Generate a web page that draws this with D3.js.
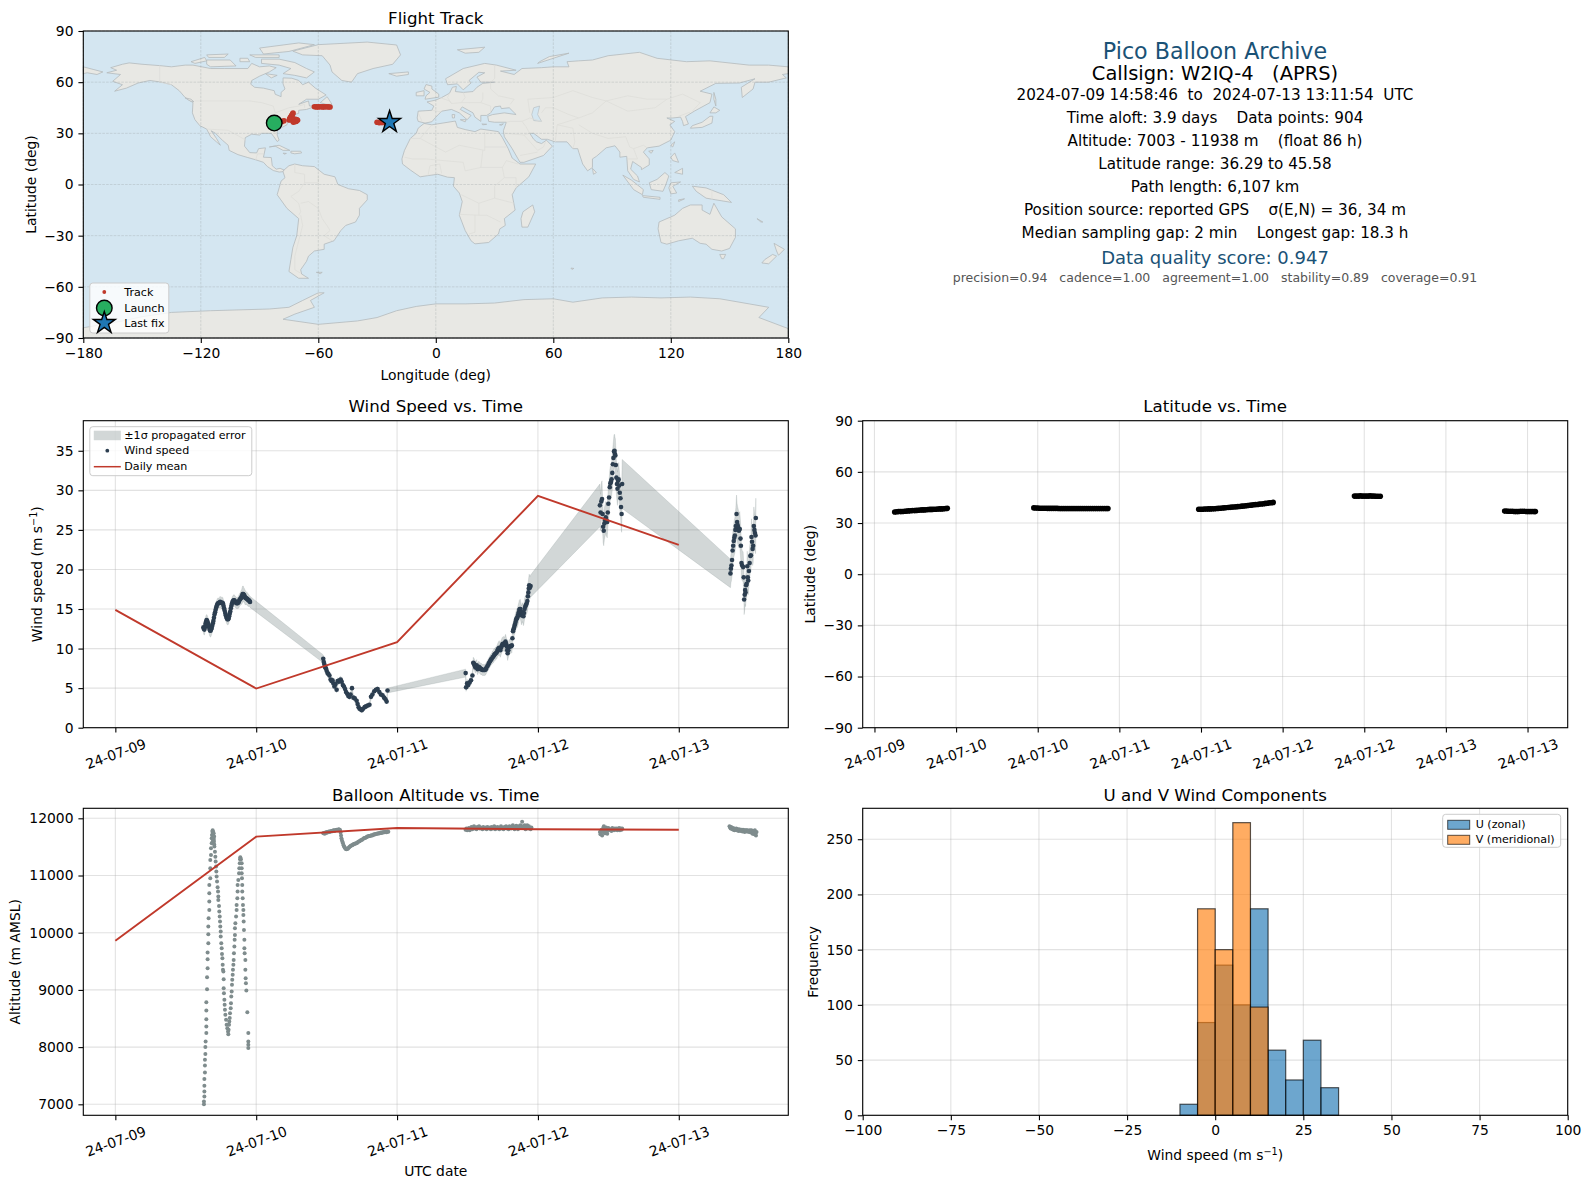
<!DOCTYPE html>
<html>
<head>
<meta charset="utf-8">
<title>Pico Balloon Archive</title>
<script src="https://cdnjs.cloudflare.com/ajax/libs/d3/7.8.5/d3.min.js"></script>
<style>
    body { margin: 0; background: #fff; }
    svg { display: block; }
    text { font-family: "DejaVu Sans", sans-serif; fill: #000; }
</style>
</head>
<body>
<svg id="chart" width="1590" height="1189"></svg>
<script>
// land outlines, lon / lat
var landNorthAmerica = [[-156.6,71.3],[-150,70.5],[-141,69.7],[-135,69],[-128,70],[-124,70],[-115,68],[-108,68],[-100,68],[-96,68],[-94,71],[-90,69],[-85,69.5],[-81.5,68.5],[-85,66],[-87,65],[-90,63.5],[-94,61],[-94.5,58.8],[-92.5,57],[-88,56.5],[-82.5,55],[-82,52.9],[-79,51.5],[-79,54],[-77,56],[-78,59],[-78,62.5],[-73.5,62.3],[-70,61],[-68,58.5],[-65,60],[-61.5,56.5],[-56,52.5],[-60,50],[-66,50],[-70,47],[-65,49],[-64.5,46],[-61,46],[-66,44],[-70,43.5],[-70,41.7],[-74,40.5],[-75.5,37.5],[-76,35],[-81,32],[-81,29],[-80,26],[-81,25.2],[-82.7,28],[-84,30],[-89,30],[-90,29],[-94,29.5],[-97.3,27.5],[-97.7,22.5],[-95,18.7],[-91.5,18.5],[-90.5,21],[-87,21.5],[-88,16],[-84,15.8],[-83.5,11],[-81.5,9],[-79.5,9.5],[-77.5,8.5],[-78,7.5],[-80,7.3],[-83,8.2],[-86,10.5],[-88,13],[-92,14.5],[-96,15.8],[-101,17.5],[-105.5,20],[-106,23],[-109,26],[-112.5,30],[-114.7,31.5],[-112,27],[-110,23],[-112,25],[-115,28],[-117,32.5],[-120.5,34.5],[-123,38],[-124.3,42],[-124,48],[-128,51],[-131,55],[-135,58.5],[-140,60],[-146,61],[-152,59.5],[-158,56.5],[-164,54.7],[-160,58.5],[-165,60.5],[-161,64.5],[-168,65.5],[-163,67],[-166,68.5],[-160,70.5]];
var landSouthAmerica = [[-77.5,8.5],[-75,11],[-72,12],[-68,11],[-62,10.5],[-57,6],[-51.5,4.5],[-50,0],[-44.5,-2.5],[-39,-3.5],[-35,-6],[-35,-9],[-39,-14],[-39,-18],[-41,-22],[-46,-24],[-48.5,-27],[-52,-33],[-57,-35],[-57,-38],[-62,-39],[-65,-42],[-66,-45],[-69,-50],[-68.5,-52.5],[-65,-55],[-70,-55],[-75,-51],[-74,-44],[-73,-37],[-71,-30],[-70,-20],[-76,-14],[-81,-6],[-80,-2],[-79,2],[-77,4],[-78,7.5]];
var landAfrica = [[-6,35.8],[-2,35],[10,37.2],[11,33.5],[15,32.2],[20,31],[23,32.5],[32,31],[34,27.5],[37,21],[39,15.5],[43,12],[51,12],[47.5,4.5],[41,-2],[39,-6],[40.5,-15],[35,-20],[35.5,-24],[32.7,-26],[32,-29],[27,-34],[20,-34.8],[18,-33],[15,-27],[12,-18],[13.5,-10],[12,-5],[9,-1],[9.5,4],[6,4.3],[1,6],[-4,5.2],[-8,4.5],[-13,8.5],[-17,12],[-17.3,15],[-16,20],[-13,27],[-10,30],[-9,33]];
var landEurasia = [[-9,37],[-9.5,39],[-9,43],[-2,43.5],[-1,46],[-4.5,48.4],[0,49.5],[3,51],[7,53.5],[8.5,57],[10.5,57.5],[10,54.5],[14,54],[19,54.5],[21,57],[24,59.3],[30,60],[23,60],[21,63],[25,65.5],[22,65.8],[17,61],[18,59.5],[14,55.5],[11,59],[6,58.5],[5,62],[14,68],[25,71],[31,70],[41,67],[33,66.5],[40,64.5],[44,68],[54,68.5],[60,69],[68,69],[67,72],[73,72.5],[80,73],[88,75.5],[104,77.5],[113,74],[128,72],[140,72.5],[160,70],[170,70],[180,69],[180,65],[177,64.5],[179,62.5],[170,60],[163,60],[162,56],[156.5,51],[156,57],[163,62],[155,59.5],[143,59.3],[135,54.7],[141,53],[140,48],[132,43],[127.5,39.8],[129,35.5],[126.5,34.5],[126,37],[125,39.5],[121,39],[118,39],[122,37],[119.5,35],[122,31],[120,26],[114,22.5],[108,21.5],[106,19],[109,15],[109,11.5],[105,8.7],[105,10],[100.5,13.5],[99.5,9],[103,5],[104,1.5],[101,3],[98,8],[97.5,16.5],[94,16],[94,19],[91.5,22.7],[87,21.5],[82,16.5],[80,15],[80,10],[77.5,8],[75,12],[73,19],[72.5,21],[70,21],[67,25],[61,25],[57,26.5],[54,26.5],[50,30],[48,30],[50,26.5],[51.5,25],[54,24],[56.5,26],[59.5,22.5],[55,17],[45,13],[43,13],[39,21],[35,28],[34.5,31.5],[36,36.5],[30,36.5],[27,37],[26.5,40],[29,41],[35,42],[41,41],[37.5,45],[33.5,44.5],[33,46],[30,45.5],[28,42],[26,40.5],[23,40.5],[23,37],[20,39.5],[19,42],[13.5,45.5],[12.5,44],[18,40.5],[16,38],[12,42],[8,44],[3,43],[0,39.5],[-2,36.8],[-5.5,36]];
var landAustralia = [[114,-22],[122,-18],[126,-14],[130,-12],[136,-12],[136,-15],[140,-17.5],[142,-11],[146,-19],[153,-26],[153,-31],[150,-37.5],[146,-39],[141,-38],[138,-35],[135,-34.5],[131,-31.5],[124,-33],[118,-35],[115,-34],[113.5,-26]];
var landAntarctica = [[-180,-90],[-180,-84],[-160,-80],[-150,-77.5],[-135,-75],[-115,-74],[-100,-73.5],[-85,-73],[-75,-72],[-68,-68],[-60,-63.5],[-57,-63.5],[-64,-68],[-62,-72],[-72,-76],[-78,-79],[-60,-82],[-40,-80],[-30,-78],[-20,-74],[-10,-71.5],[0,-70],[15,-70],[30,-69.5],[45,-67.5],[60,-67],[70,-69],[85,-66.5],[100,-66],[115,-66.5],[130,-66],[145,-67],[160,-70],[170,-72],[165,-78],[180,-84.5],[180,-90]];
var landIslands = [
    [[-73,78.2],[-60,82],[-35,83.5],[-20,81.8],[-18,76],[-22,70.5],[-32,68],[-40,65],[-43,60],[-48,61],[-53,66],[-54,70],[-58,75.5],[-68,76]],
    [[-80,73.5],[-72,71.5],[-66,68],[-62,66],[-66,62.5],[-72,64],[-78,65],[-74,68],[-80,70],[-89,71],[-89,73.5]],
    [[-117,73],[-105,73],[-102,69.5],[-115,69],[-117,70.5]],
    [[-90,80],[-70,83],[-62,82],[-75,78],[-88,76.5]],
    [[-125,72],[-118,74.5],[-117,72.5],[-123,71]],
    [[-95,76],[-80,76],[-80,74.5],[-92,74.5]],
    [[-117,76],[-106,76.5],[-108,74.5],[-116,74.5]],
    [[-100,74],[-96,74],[-95,72],[-100,72]],
    [[-87,65],[-81,64],[-84,62.5]],
    [[-59,48],[-55.5,51.5],[-53,47],[-56,47]],
    [[-85,22],[-80,23],[-74.5,20],[-78,20],[-82,22.5]],
    [[-74,19.5],[-69,19.5],[-68.5,18.5],[-72,18],[-74,18.5]],
    [[-78,18.4],[-76.3,18.2],[-77.5,17.8]],
    [[-128,50.8],[-125,50],[-123.5,48.5],[-125.5,49]],
    [[-180,69],[-175,67.5],[-170,66],[-173,64.5],[-178,65.5],[-180,65]],
    [[-5.5,50],[1.5,51.2],[1.5,53],[-2,56],[-2,57.7],[-5,58.6],[-6,56],[-3,54],[-5,52]],
    [[-10,52],[-6,52],[-6,55],[-10,54]],
    [[-24,65],[-14,66],[-14,64.5],[-20,63.5]],
    [[11,79],[25,80.5],[22,77.5],[15,77]],
    [[52,71],[68,77],[58,75],[53,72]],
    [[142,54],[143,50],[143,46],[142,50]],
    [[130,33],[136,33.5],[141,36],[141.5,40],[140,40],[136,36.5],[131,34.5]],
    [[140,42],[142,45.5],[145,43.5],[143,42]],
    [[120,23],[122,25],[121,22]],
    [[108.7,19.5],[111,20],[110,18.3]],
    [[80,9.5],[82,7],[80.5,6]],
    [[120,16],[122,18.5],[124,13],[121,14]],
    [[122,7],[126,9.5],[126,6]],
    [[109,1],[113,3],[117,7],[119,5],[117.5,0],[116,-4],[110,-3]],
    [[95.5,5.5],[100,2.5],[106,-3],[105.5,-6],[101,-3]],
    [[105.5,-6.5],[114.5,-7.5],[114.5,-8.7],[106,-7.5]],
    [[120,1],[125,1.5],[121,-1],[123,-5],[120,-5.5],[119,-2]],
    [[131,-1],[138,-2],[147,-6],[151,-10.5],[143,-9],[138,-8],[133,-4]],
    [[124,-9],[127,-8.4],[124,-10]],
    [[145,-41],[148,-41],[147,-43.5],[146,-43.5]],
    [[172.7,-34.5],[178,-38],[175,-41.5],[174,-39]],
    [[172,-41],[174,-42],[170,-46.5],[166.5,-46],[168,-44]],
    [[164,-20],[167,-22],[166,-22]],
    [[-61,-51.5],[-58,-51.5],[-59,-52.3]],
    [[49.5,-12],[50.5,-16],[47,-25],[44,-25],[43.5,-20],[44.5,-16]],
    [[12.5,38],[15.5,38],[15,36.7]],
    [[8.3,41],[9.7,41],[9.5,39],[8.5,39]],
    [[23.5,35.5],[26,35.3],[24,35]],
    [[32.5,35],[34.5,35.6],[33.5,34.7]],
    [[69,-49],[70.5,-49.2],[69.5,-49.8]]
];
var waterCaspian = [[50,45],[53,46],[52,41],[54,37],[50,37.5],[49,41]];
var borderLines = [
    [[-123,49],[-95,49],[-89,48],[-83,46],[-82,42],[-75,45],[-70,46],[-67,47],[-67,45]],
    [[-141,69.7],[-141,60],[-135,58.5]],
    [[-117,32.5],[-106,31.8],[-97,26]],
    [[-92,14.5],[-91,18],[-88,18]],
    [[-72,12],[-72,7],[-67,6],[-67,1],[-70,-4],[-74,-7],[-70,-11],[-69,-16],[-70,-18]],
    [[-60,5],[-60,1],[-67,1]],
    [[-69,-11],[-65,-10],[-60,-14],[-58,-20],[-55,-25],[-54,-27],[-57,-30],[-53,-33]],
    [[-69,-18],[-68,-24],[-70,-33],[-72,-42],[-72,-50],[-69,-52]],
    [[-2,35],[-8,27],[-13,27]],
    [[-8,27],[5,19],[12,23],[25,20],[25,31]],
    [[25,22],[36,22]],
    [[24,20],[23,10],[15,8],[14,13],[4,14],[-5,15],[-12,15],[-16,16]],
    [[23,10],[34,10],[36,14],[42,12]],
    [[34,10],[35,4],[41,4],[41,-2]],
    [[35,4],[30,-1],[30,-8],[22,-11],[13,-6]],
    [[30,-8],[40,-11]],
    [[22,-11],[22,-18],[12,-17.5]],
    [[20,-18],[20,-28],[17,-29]],
    [[33,-22],[26,-18],[22,-18]],
    [[-4,5.2],[-3,11],[2,12],[3,6.5]],
    [[2,51],[7,49],[8,47.5],[13,48],[17,48],[23,48],[28,46],[28,42]],
    [[7,53.5],[6,51],[8,47.5]],
    [[14,54],[15,51],[13,48]],
    [[24,54],[24,50],[23,48]],
    [[28,60],[28,56],[32,52],[40,50],[38,47]],
    [[30,70],[30,62],[28,60]],
    [[-2,43.5],[3,42.5]],
    [[-9,42],[-7,37]],
    [[48,42],[47,50],[60,51],[70,55],[80,51],[87,49],[98,52],[108,50],[118,50],[126,53],[135,48],[131,43]],
    [[87,49],[80,42],[73,39],[62,35],[61,25]],
    [[54,42],[56,45],[60,45],[68,41],[73,39]],
    [[87,49],[98,43],[112,45],[118,50]],
    [[73,35],[80,30],[88,27],[97,28],[99,22],[101,21],[106,23],[108,21.5]],
    [[62,35],[70,33],[71,25],[70,21]],
    [[48,30],[46,34],[44,37],[38,37],[36,36.5]],
    [[44,37],[48,39],[54,37]],
    [[35,30],[45,29],[48,30]],
    [[45,29],[52,20],[55,22],[56,25]],
    [[43,17],[52,19]],
    [[101,21],[103,15],[98,15]],
    [[124,40],[130,42.5]],
    [[141,-2.5],[141,-9]]
];

var gridLon = [-180, -120, -60, 0, 60, 120, 180];
var gridLat = [-90, -60, -30, 0, 30, 60, 90];

// track positions, grouped as the blobs show on the map
var trackLon = [-81,-79.5,-78.5,-77.5,-74.8,-74.6,-74.4,-74.1,-73.8,-73.5,-73.1,-72.9,-73.3,-73.8,-74.3,-74.4,-73.9,-73.2,-72.4,-71.6,-70.9,-70.6,-71.2,-72,-72.8,-62,-61,-60,-59,-58,-57,-56,-55,-54,-30,-29,-28,-27,-26,-25];
var trackLat = [36.3,36.6,37,37.4,37.8,38.3,38.9,39.4,40,40.6,41.3,41.9,40.8,39.6,38.8,38.2,38.1,38.1,38.2,38.2,38,37.6,37.1,36.8,36.6,45.6,45.5,45.5,45.6,45.5,45.5,45.6,45.5,45.4,36.5,36.3,36.4,36.4,36.5,36.6];
var launchPoint = [-82.5, 36.0];
var lastFix = [-23.6, 36.6];

// wind speed legs: [days since 2024-07-09 00:00 UTC, speed, sigma]
var windLeg1 = [[.625,12.7,.7],[.628,12.5,.7],[.632,12.4,.7],[.636,12.7,.7],[.640,13.1,.8],[.644,13.4,.8],[.648,13.6,.7],[.652,13.5,.7],[.656,13.3,.7],[.660,13.0,.7],[.664,12.8,.7],[.668,12.5,.8],[.672,12.3,.8],[.676,12.25,.8],[.680,12.4,.8],[.684,12.6,.8],[.688,12.9,.7],[.692,13.2,.7],[.696,13.5,.7],[.700,13.9,.7],[.704,14.3,.7],[.708,14.6,.7],[.712,14.9,.7],[.716,15.2,.7],[.720,15.4,.7],[.724,15.6,.7],[.728,15.7,.7],[.732,15.75,.6],[.736,15.8,.6],[.740,15.8,.7],[.744,15.9,.7],[.748,15.8,.7],[.752,15.8,.7],[.756,15.8,.7],[.760,15.8,.7],[.764,15.7,.7],[.768,15.4,.7],[.772,15.1,.7],[.776,14.8,.7],[.780,14.5,.7],[.784,14.2,.7],[.788,14.0,.7],[.792,13.8,.7],[.796,13.7,.7],[.800,13.7,.7],[.804,13.8,.7],[.808,14.1,.7],[.812,14.4,.7],[.816,14.7,.7],[.820,15.1,.7],[.824,15.4,.7],[.828,15.7,.7],[.832,15.9,.7],[.836,16.0,.7],[.840,16.1,.7],[.844,16.1,.7],[.848,16.0,.7],[.852,15.9,.7],[.856,15.8,.7],[.860,15.8,.7],[.864,15.7,.7],[.868,15.8,.7],[.872,15.8,.7],[.876,15.9,.8],[.880,16.1,.8],[.884,16.2,.8],[.888,16.3,.8],[.892,16.4,.9],[.896,16.5,.9],[.900,16.7,1.0],[.904,16.9,1.0],[.908,16.9,1.0],[.912,16.8,.9],[.916,16.7,.9],[.920,16.5,.9],[.924,16.4,.9],[.928,16.4,.8],[.932,16.3,.8],[.936,16.3,.8],[.940,16.2,.8],[.944,16.1,.8],[.948,16.1,.7],[.952,16.0,.7],[.956,15.9,.7]];
var windLeg2 = [[1.476,8.7,.5],[1.480,8.3,.5],[1.484,8.0,.5],[1.490,7.6,.5],[1.495,7.5,.4],[1.500,7.2,.4],[1.506,6.9,.4],[1.512,6.8,.4],[1.520,6.6,.4],[1.528,6.1,.4],[1.535,5.9,.4],[1.542,6.0,.4],[1.548,5.6,.4],[1.555,5.2,.4],[1.562,5.5,.4],[1.571,4.8,.4],[1.578,5.9,.4],[1.585,5.8,.4],[1.592,6.0,.4],[1.600,6.1,.4],[1.607,5.8,.4],[1.615,5.4,.4],[1.623,5.2,.4],[1.631,4.9,.3],[1.638,4.5,.3],[1.646,4.3,.3],[1.654,4.0,.3],[1.662,3.9,.3],[1.670,4.2,.3],[1.680,5.0,.3],[1.690,3.8,.3],[1.700,3.7,.3],[1.713,3.4,.3],[1.720,3.0,.3],[1.727,2.6,.3],[1.734,2.4,.3],[1.742,2.3,.3],[1.750,2.2,.3],[1.758,2.4,.3],[1.770,2.6,.3],[1.780,2.7,.3],[1.792,2.8,.3],[1.804,2.9,.3],[1.815,3.9,.3],[1.825,4.2,.3],[1.838,4.6,.3],[1.850,4.8,.3],[1.862,4.9,.3],[1.874,4.5,.3],[1.885,4.2,.3],[1.897,4.1,.3],[1.908,3.8,.3],[1.918,3.6,.3],[1.926,3.3,.3],[1.932,4.7,.3]];
var windLeg3 = [[2.487,6.9,.5],[2.490,5.1,.5],[2.497,5.6,.5],[2.505,5.4,.5],[2.515,5.7,.5],[2.525,6.0,.5],[2.535,6.6,.5],[2.541,8.2,.7],[2.545,8.1,.7],[2.548,8.0,.7],[2.552,7.8,.7],[2.556,7.6,.7],[2.560,7.8,.7],[2.565,7.9,.7],[2.568,7.6,.7],[2.572,7.4,.7],[2.576,7.6,.7],[2.580,7.7,.7],[2.585,7.6,.7],[2.590,7.5,.7],[2.595,7.4,.7],[2.600,7.4,.7],[2.606,7.3,.7],[2.612,7.3,.7],[2.618,7.3,.7],[2.624,7.3,.7],[2.630,7.4,.7],[2.635,7.6,.7],[2.642,7.8,.7],[2.648,8.0,.7],[2.654,8.2,.7],[2.660,8.4,.7],[2.666,8.6,.7],[2.672,8.7,.7],[2.678,8.9,.8],[2.684,9.0,.8],[2.690,9.2,.8],[2.695,9.3,.8],[2.701,9.4,.8],[2.707,9.5,.8],[2.712,9.7,.8],[2.716,9.9,.8],[2.721,10.0,.9],[2.725,10.1,.9],[2.729,10.0,.9],[2.733,9.8,.9],[2.738,10.1,.9],[2.742,10.3,.9],[2.747,10.5,.9],[2.752,10.6,.9],[2.757,10.6,.9],[2.762,10.5,.9],[2.766,10.7,.9],[2.770,10.9,.9],[2.774,10.6,.9],[2.778,10.3,.9],[2.782,9.8,.9],[2.785,9.4,.9],[2.790,9.8,.9],[2.795,10.2,.9],[2.800,10.3,.9],[2.805,10.3,.9],[2.810,10.3,.9],[2.815,10.4,.9],[2.819,11.3,.9],[2.823,12.2,1.0],[2.826,12.4,1.0],[2.830,12.6,1.0],[2.834,12.9,1.1],[2.838,13.1,1.1],[2.842,13.4,1.1],[2.846,13.7,1.1],[2.850,13.8,1.2],[2.853,13.9,1.2],[2.857,14.1,1.2],[2.860,14.3,1.2],[2.864,14.6,1.2],[2.868,14.9,1.2],[2.872,15.0,1.2],[2.875,15.0,1.2],[2.879,14.6,1.2],[2.883,14.2,1.2],[2.887,14.4,1.2],[2.890,14.6,1.2],[2.894,14.4,1.2],[2.897,14.1,1.2],[2.901,14.5,1.3],[2.905,15.0,1.3],[2.910,15.3,1.3],[2.915,15.5,1.3],[2.920,15.7,1.3],[2.925,16.0,1.3],[2.929,16.6,1.4],[2.932,17.1,1.4],[2.935,17.6,1.4],[2.938,18.0,1.4],[2.943,17.7,1.4],[2.948,17.9,1.4]];
var windLeg4 = [[3.440,28.1,2.7],[3.445,27.2,2.3],[3.450,28.6,2.3],[3.455,28.9,2.3],[3.459,27.0,2.1],[3.463,25.4,2.0],[3.467,24.9,1.9],[3.472,25.8,2.0],[3.477,26.2,2.0],[3.482,26.6,2.0],[3.487,26.2,2.0],[3.492,26.0,2.0],[3.496,27.2,2.0],[3.500,28.3,2.1],[3.505,29.1,2.1],[3.510,30.4,2.1],[3.514,30.9,2.1],[3.519,31.1,2.1],[3.523,31.4,2.1],[3.528,32.2,2.1],[3.532,33.3,2.1],[3.536,34.1,2.1],[3.540,34.9,2.1],[3.544,35.0,2.1],[3.547,34.6,2.1],[3.550,34.4,2.1],[3.553,33.2,2.1],[3.557,31.6,2.1],[3.561,30.8,2.1],[3.565,30.2,2.1],[3.569,31.2,2.1],[3.573,31.4,2.1],[3.577,30.6,2.1],[3.581,29.7,2.1],[3.586,29.0,2.2],[3.590,27.9,2.2],[3.594,27.0,2.3],[3.598,30.8,3.1]];
var windLeg5 = [[4.367,19.5,1.8],[4.370,20.1,1.8],[4.374,20.5,1.9],[4.378,21.2,2.0],[4.382,22.4,2.0],[4.386,23.0,2.1],[4.390,23.6,2.1],[4.394,24.0,2.2],[4.398,24.3,2.2],[4.402,25.0,2.3],[4.405,25.5,2.3],[4.410,27.0,2.4],[4.414,26.0,2.3],[4.418,25.6,2.3],[4.422,25.3,2.3],[4.427,24.9,2.2],[4.433,25.1,2.2],[4.438,23.9,2.2],[4.441,23.0,2.1],[4.445,20.8,2.0],[4.450,20.5,1.9],[4.457,20.3,1.9],[4.461,19.0,1.8],[4.464,16.2,1.9],[4.468,16.8,1.9],[4.471,17.4,1.8],[4.474,17.1,1.8],[4.478,18.0,1.8],[4.482,18.2,1.8],[4.486,20.4,1.9],[4.490,19.0,1.8],[4.493,18.6,1.8],[4.498,19.8,1.9],[4.503,20.8,2.0],[4.508,21.7,2.0],[4.512,21.8,2.0],[4.516,24.1,2.3],[4.520,23.5,2.2],[4.524,22.6,2.1],[4.528,23.0,2.2],[4.533,25.5,2.4],[4.537,25.0,2.3],[4.541,24.6,2.3],[4.545,24.3,2.3],[4.547,26.5,2.5]];
var windPoints = windLeg1.concat(windLeg2, windLeg3, windLeg4, windLeg5);

// daily means
var dailyDays = [0, 1, 2, 3, 4];
var dailyWind = [14.9, 4.95, 10.8, 29.3, 23.1];
var dailyAltitude = [9860, 11680, 11830, 11810, 11800];
var dateLabels = ["24-07-09", "24-07-10", "24-07-11", "24-07-12", "24-07-13"];

// latitude legs: [day, latitude]
var latLeg1 = [[.624,36.5],[.636,36.6],[.648,36.7],[.660,36.7],[.672,36.8],[.684,36.9],[.696,37.0],[.708,37.1],[.720,37.2],[.732,37.3],[.744,37.3],[.756,37.4],[.768,37.5],[.780,37.6],[.792,37.7],[.804,37.7],[.816,37.8],[.828,37.9],[.840,38.0],[.852,38.0],[.864,38.1],[.876,38.1],[.888,38.2],[.900,38.3],[.912,38.3],[.924,38.4],[.936,38.5],[.946,38.6]];
var latLeg2 = [[1.476,38.9],[1.488,38.8],[1.500,38.8],[1.512,38.7],[1.524,38.7],[1.536,38.7],[1.548,38.7],[1.560,38.6],[1.572,38.6],[1.584,38.6],[1.596,38.6],[1.608,38.6],[1.620,38.6],[1.632,38.5],[1.644,38.5],[1.656,38.5],[1.668,38.5],[1.680,38.5],[1.692,38.5],[1.704,38.5],[1.716,38.5],[1.728,38.5],[1.740,38.5],[1.752,38.5],[1.764,38.5],[1.776,38.5],[1.788,38.5],[1.800,38.5],[1.812,38.5],[1.824,38.5],[1.836,38.5],[1.848,38.5],[1.860,38.5],[1.872,38.5],[1.884,38.5],[1.896,38.5],[1.908,38.5],[1.920,38.5],[1.930,38.5]];
var latLeg3 = [[2.486,38.1],[2.498,38.1],[2.510,38.1],[2.522,38.2],[2.534,38.2],[2.546,38.3],[2.558,38.3],[2.570,38.4],[2.582,38.4],[2.594,38.5],[2.606,38.6],[2.618,38.7],[2.630,38.8],[2.642,38.9],[2.654,39.0],[2.666,39.1],[2.678,39.2],[2.690,39.3],[2.702,39.4],[2.714,39.5],[2.726,39.6],[2.738,39.7],[2.750,39.9],[2.762,40.0],[2.774,40.1],[2.786,40.3],[2.798,40.4],[2.810,40.5],[2.822,40.7],[2.834,40.8],[2.846,40.9],[2.858,41.1],[2.870,41.2],[2.882,41.3],[2.894,41.5],[2.906,41.6],[2.918,41.8],[2.930,41.9],[2.942,42.1]];
var latLeg4 = [[3.440,45.8],[3.452,45.8],[3.464,45.8],[3.476,45.9],[3.488,45.8],[3.500,45.8],[3.512,45.8],[3.524,45.8],[3.536,45.9],[3.548,45.8],[3.560,45.8],[3.572,45.7],[3.584,45.7],[3.598,45.7]];
var latLeg5 = [[4.360,37.0],[4.372,37.0],[4.384,36.9],[4.396,36.9],[4.408,36.9],[4.420,36.8],[4.432,36.8],[4.444,36.8],[4.456,36.9],[4.468,36.9],[4.480,36.9],[4.492,36.8],[4.504,36.8],[4.516,36.8],[4.528,36.8],[4.540,36.7],[4.548,36.7]];
var latPoints = latLeg1.concat(latLeg2, latLeg3, latLeg4, latLeg5);
var latTickDays = [.5, 1, 1.5, 2, 2.5, 3, 3.5, 4, 4.5];
var latTickLabels = ["24-07-09", "24-07-10", "24-07-10", "24-07-11", "24-07-11", "24-07-12", "24-07-12", "24-07-13", "24-07-13"];

// altitude legs: [day, metres]
var altClimb1 = [[.629,7003],[.629,7051],[.632,7138],[.632,7226],[.632,7325],[.632,7441],[.636,7558],[.636,7680],[.636,7779],[.639,7878],[.639,8000],[.641,8099],[.646,8245],[.646,8361],[.646,8489],[.646,8640],[.646,8786],[.651,9013],[.651,9223],[.655,9380],[.655,9537],[.655,9653],[.660,9816],[.660,9974],[.660,10108],[.662,10253],[.667,10399],[.667,10544],[.667,10690],[.667,10835],[.674,10952],[.674,11126],[.674,11272],[.679,11359],[.679,11476],[.684,11563],[.684,11650],[.686,11709],[.689,11767],[.690,11650],[.691,11790],[.692,11600],[.693,11720],[.694,11760],[.695,11660],[.696,11700],[.697,11610],[.698,11740],[.699,11640],[.700,11590],[.701,11680],[.702,11540]];
var altDescent1 = [[.703,11505],[.707,11417],[.710,11330],[.712,11243],[.715,11156],[.717,11068],[.719,10981],[.722,10894],[.726,10795],[.729,10719],[.731,10632],[.731,10573],[.736,10469],[.738,10370],[.741,10282],[.743,10195],[.745,10108],[.748,10020],[.748,9933],[.752,9816],[.755,9729],[.757,9630],[.760,9554],[.762,9438],[.764,9351],[.767,9322],[.769,9188],[.769,9030],[.771,8943],[.774,8827],[.776,8739],[.778,8652],[.781,8565],[.786,8477],[.790,8390],[.795,8332],[.800,8274],[.802,8227]];
var altClimb2 = [[.804,8303],[.807,8390],[.809,8448],[.812,8507],[.814,8594],[.819,8681],[.821,8769],[.823,8885],[.826,8972],[.828,9089],[.830,9176],[.833,9263],[.835,9351],[.838,9438],[.840,9525],[.842,9642],[.845,9758],[.847,9875],[.849,9962],[.849,10078],[.852,10166],[.857,10282],[.861,10399],[.861,10486],[.866,10602],[.868,10719],[.868,10835],[.873,10923],[.878,11039],[.880,11126],[.883,11214],[.885,11284],[.887,11319],[.892,11284],[.897,11214],[.897,11126]];
var altDescent2 = [[.897,11039],[.899,10952],[.901,10835],[.901,10719],[.904,10602],[.906,10486],[.909,10399],[.909,10311],[.911,10195],[.913,10049],[.916,9875],[.916,9729],[.918,9642],[.923,9525],[.923,9351],[.925,9205],[.927,9118],[.930,8990],[.937,8611],[.944,8245],[.944,8099],[.944,8041],[.944,7983]];
var altFloat1 = [[1.476,11738],[1.481,11745],[1.486,11730],[1.491,11750],[1.496,11745],[1.501,11760],[1.506,11750],[1.511,11760],[1.516,11770],[1.521,11760],[1.526,11775],[1.531,11770],[1.536,11780],[1.541,11775],[1.546,11785],[1.551,11790],[1.556,11780],[1.561,11790],[1.566,11795],[1.571,11800],[1.576,11790],[1.581,11800],[1.586,11810],[1.591,11800],[1.595,11796],[1.599,11750],[1.602,11700],[1.605,11650],[1.608,11620],[1.612,11590],[1.616,11563],[1.620,11530],[1.624,11505],[1.628,11490],[1.632,11475],[1.636,11465],[1.640,11458],[1.645,11465],[1.650,11470],[1.655,11480],[1.660,11495],[1.665,11505],[1.670,11515],[1.675,11525],[1.680,11530],[1.685,11535],[1.690,11545],[1.695,11550],[1.700,11555],[1.705,11560],[1.710,11565],[1.716,11570],[1.722,11585],[1.728,11595],[1.734,11600],[1.740,11610],[1.746,11620],[1.752,11625],[1.758,11640],[1.764,11650],[1.770,11655],[1.776,11660],[1.782,11670],[1.788,11680],[1.794,11680],[1.800,11690],[1.806,11690],[1.812,11695],[1.818,11705],[1.824,11700],[1.830,11710],[1.836,11720],[1.842,11715],[1.848,11725],[1.854,11730],[1.860,11730],[1.866,11740],[1.872,11735],[1.878,11745],[1.884,11750],[1.890,11745],[1.896,11755],[1.902,11750],[1.908,11760],[1.914,11755],[1.920,11765],[1.926,11755],[1.932,11770],[1.938,11767]];
var altFloat2 = [[2.486,11800],[2.492,11820],[2.498,11790],[2.504,11810],[2.510,11830],[2.516,11790],[2.522,11820],[2.528,11850],[2.534,11810],[2.540,11830],[2.546,11860],[2.552,11820],[2.558,11840],[2.564,11810],[2.570,11850],[2.576,11830],[2.582,11860],[2.588,11820],[2.594,11840],[2.600,11830],[2.606,11810],[2.612,11850],[2.618,11830],[2.624,11820],[2.630,11840],[2.636,11810],[2.642,11850],[2.648,11830],[2.654,11820],[2.660,11840],[2.666,11810],[2.672,11850],[2.678,11820],[2.684,11830],[2.690,11860],[2.696,11810],[2.702,11840],[2.708,11820],[2.714,11850],[2.720,11830],[2.726,11810],[2.732,11840],[2.738,11860],[2.744,11820],[2.750,11830],[2.756,11810],[2.762,11850],[2.768,11830],[2.774,11860],[2.780,11820],[2.786,11840],[2.792,11810],[2.798,11860],[2.804,11830],[2.810,11820],[2.816,11850],[2.822,11880],[2.828,11840],[2.834,11810],[2.840,11850],[2.846,11870],[2.852,11830],[2.858,11810],[2.864,11860],[2.870,11840],[2.876,11880],[2.882,11850],[2.888,11938],[2.894,11860],[2.900,11830],[2.906,11880],[2.912,11810],[2.918,11850],[2.924,11880],[2.930,11820],[2.936,11860],[2.942,11830],[2.948,11810],[2.954,11840]];
var altFloat3 = [[3.440,11760],[3.444,11720],[3.448,11780],[3.452,11800],[3.456,11700],[3.460,11760],[3.464,11830],[3.468,11860],[3.472,11790],[3.476,11740],[3.480,11810],[3.484,11840],[3.488,11770],[3.492,11730],[3.496,11800],[3.500,11830],[3.504,11790],[3.510,11800],[3.516,11810],[3.522,11780],[3.528,11830],[3.534,11810],[3.540,11790],[3.546,11820],[3.552,11800],[3.558,11820],[3.564,11790],[3.570,11810],[3.576,11830],[3.582,11790],[3.588,11820],[3.594,11800],[3.598,11820]];
var altFloat4 = [[4.360,11860],[4.364,11840],[4.368,11820],[4.372,11850],[4.376,11830],[4.380,11810],[4.384,11830],[4.388,11800],[4.392,11820],[4.396,11790],[4.400,11810],[4.404,11800],[4.408,11820],[4.412,11790],[4.416,11810],[4.420,11800],[4.424,11780],[4.428,11810],[4.432,11790],[4.436,11800],[4.440,11780],[4.444,11800],[4.448,11790],[4.452,11770],[4.456,11800],[4.460,11780],[4.464,11790],[4.468,11760],[4.472,11790],[4.476,11780],[4.480,11790],[4.484,11770],[4.488,11790],[4.492,11770],[4.496,11780],[4.500,11760],[4.504,11790],[4.508,11770],[4.512,11750],[4.516,11790],[4.520,11760],[4.524,11730],[4.528,11780],[4.532,11750],[4.536,11720],[4.540,11790],[4.544,11740],[4.548,11700],[4.552,11760]];
var altPoints = altClimb1.concat(altDescent1, altClimb2, altDescent2, altFloat1, altFloat2, altFloat3, altFloat4);

// histogram of the wind components
var binEdges = [-10, -5, 0, 5, 10, 15, 20, 25, 30, 35];
var uCounts = [10, 84, 136, 100, 187, 59, 32, 68, 25];
var vCounts = [0, 187, 150, 265, 98, 0, 0, 0, 0];

var summaryTitle = "Pico Balloon Archive";
var summaryCallsign = "Callsign: W2IQ-4   (APRS)";
var summaryLines = [
    "2024-07-09 14:58:46  to  2024-07-13 13:11:54  UTC",
    "Time aloft: 3.9 days    Data points: 904",
    "Altitude: 7003 - 11938 m    (float 86 h)",
    "Latitude range: 36.29 to 45.58",
    "Path length: 6,107 km",
    "Position source: reported GPS    σ(E,N) = 36, 34 m",
    "Median sampling gap: 2 min    Longest gap: 18.3 h"
];
var summaryScore = "Data quality score: 0.947";
var summaryParts = "precision=0.94   cadence=1.00   agreement=1.00   stability=0.89   coverage=0.91";

var columnLeft = [83.3, 862.7], rowTop = [31, 420.7, 808.3];
var titleOffset = [-7, -9, -7];
var panelWidth = 705, panelHeight = 307;
var titleSize = 16.67, tickSize = 13.89, labelSize = 13.89, legendSize = 11.1;
var red = "#c0392b", navy = "#2c3e50", slate = "#7f8c8d", ink = "#1a5276";

var svg = d3.select("#chart");
svg.append("rect").attr("width", 1590).attr("height", 1189).attr("fill", "#fff");

function panel(col, row, title) {
    var g = svg.append("g")
        .attr("transform", "translate(" + columnLeft[col] + "," + rowTop[row] + ")");
    g.append("text")
        .attr("x", panelWidth / 2)
        .attr("y", titleOffset[row])
        .attr("text-anchor", "middle")
        .attr("font-size", titleSize)
        .text(title);
    return g;
}

function gridlines(g, xs, ys, x, y) {
    var grid = g.append("g").attr("stroke", "#b0b0b0").attr("stroke-opacity", 0.36).attr("stroke-width", 1.1);
    grid.selectAll(".gx").data(xs).enter().append("line")
        .attr("x1", x).attr("x2", x).attr("y1", 0).attr("y2", panelHeight);
    grid.selectAll(".gy").data(ys).enter().append("line")
        .attr("y1", y).attr("y2", y).attr("x1", 0).attr("x2", panelWidth);
}

function finishAxes(g, xAxis, yAxis, rotate) {
    g.append("rect")
        .attr("width", panelWidth).attr("height", panelHeight)
        .attr("fill", "none").attr("stroke", "#000").attr("stroke-width", 1.1);
    var ax = g.append("g").attr("transform", "translate(0," + panelHeight + ")").call(xAxis);
    var ay = g.append("g").call(yAxis);
    [ax, ay].forEach(function (a) {
        a.select(".domain").remove();
        a.selectAll("line").attr("stroke", "#000").attr("stroke-width", 1.1);
        a.selectAll("text").attr("font-size", tickSize).attr("font-family", '"DejaVu Sans"').attr("fill", "#000");
    });
    if (rotate) {
        ax.selectAll("text")
            .attr("y", 0).attr("dy", null)
            .attr("dominant-baseline", "central")
            .attr("text-anchor", "middle")
            .attr("transform", "translate(0,26) rotate(-20)");
    }
}

function axisLabelX(g, text, y) {
    return g.append("text").attr("x", panelWidth / 2).attr("y", y)
        .attr("text-anchor", "middle").attr("font-size", labelSize).text(text);
}

function axisLabelY(g, text, x) {
    return g.append("text")
        .attr("transform", "translate(" + x + "," + panelHeight / 2 + ") rotate(-90)")
        .attr("text-anchor", "middle").attr("font-size", labelSize).text(text);
}

function windUnit(label, prefix) {
    label.text(prefix + "(m s");
    label.append("tspan").attr("dy", -5).attr("font-size", 9.7).text("−1");
    label.append("tspan").attr("dy", 5).text(")");
}

function legendBox(g, x, y, w, h) {
    g.append("rect")
        .attr("x", x).attr("y", y).attr("width", w).attr("height", h).attr("rx", 3)
        .attr("fill", "#fff").attr("fill-opacity", 0.8)
        .attr("stroke", "#ccc").attr("stroke-width", 1);
}

function legendText(g, x, y, text) {
    g.append("text").attr("x", x).attr("y", y).attr("dominant-baseline", "central")
        .attr("font-size", legendSize).text(text);
}

// ---- flight track map
(function () {
    var g = panel(0, 0, "Flight Track");
    var x = d3.scaleLinear().domain([-180, 180]).range([0, panelWidth]),
        y = d3.scaleLinear().domain([-90, 90]).range([panelHeight, 0]);
    var outline = d3.line().x(function (d) { return x(d[0]); }).y(function (d) { return y(d[1]); });
    var land = [landNorthAmerica, landSouthAmerica, landAfrica, landEurasia, landAustralia, landAntarctica].concat(landIslands);

    g.append("rect").attr("width", panelWidth).attr("height", panelHeight).attr("fill", "#d4e6f1");
    g.selectAll(".land").data(land).enter().append("path")
        .attr("d", function (d) { return outline(d) + "Z"; })
        .attr("fill", "#e8e8e4").attr("stroke", "#b4babd").attr("stroke-width", 0.8);
    g.append("path").attr("d", outline(waterCaspian) + "Z")
        .attr("fill", "#d4e6f1").attr("stroke", "#b4babd").attr("stroke-width", 0.6);
    g.selectAll(".border").data(borderLines).enter().append("path")
        .attr("d", outline).attr("fill", "none").attr("stroke", "#dcdcd8").attr("stroke-width", 0.7);

    var grid = g.append("g").attr("stroke", "#9aa0a4").attr("stroke-opacity", 0.45)
        .attr("stroke-width", 0.7).attr("stroke-dasharray", "2.6,1.2");
    grid.selectAll(".gx").data(gridLon).enter().append("line")
        .attr("x1", x).attr("x2", x).attr("y1", 0).attr("y2", panelHeight);
    grid.selectAll(".gy").data(gridLat).enter().append("line")
        .attr("y1", y).attr("y2", y).attr("x1", 0).attr("x2", panelWidth);

    g.selectAll(".track").data(d3.range(trackLon.length)).enter().append("circle")
        .attr("cx", function (i) { return x(trackLon[i]); })
        .attr("cy", function (i) { return y(trackLat[i]); })
        .attr("r", 2.8).attr("fill", red);
    g.append("circle").attr("cx", x(launchPoint[0])).attr("cy", y(launchPoint[1]))
        .attr("r", 7.8).attr("fill", "#27ae60").attr("stroke", "#000").attr("stroke-width", 1.4);
    var star = d3.symbol().type(d3.symbolStar).size(150);
    g.append("path").attr("d", star())
        .attr("transform", "translate(" + x(lastFix[0]) + "," + y(lastFix[1]) + ")")
        .attr("fill", "#1f77b4").attr("stroke", "#000").attr("stroke-width", 1.4);

    legendBox(g, 6.5, 252, 79, 50);
    g.append("circle").attr("cx", 21).attr("cy", 261).attr("r", 1.9).attr("fill", red);
    g.append("circle").attr("cx", 21).attr("cy", 277).attr("r", 7.8)
        .attr("fill", "#27ae60").attr("stroke", "#000").attr("stroke-width", 1.4);
    g.append("path").attr("d", star())
        .attr("transform", "translate(21,292)")
        .attr("fill", "#1f77b4").attr("stroke", "#000").attr("stroke-width", 1.4);
    legendText(g, 41, 261, "Track");
    legendText(g, 41, 277, "Launch");
    legendText(g, 41, 292, "Last fix");

    finishAxes(g,
        d3.axisBottom(x).tickValues(gridLon).tickSize(4.9).tickPadding(4.9).tickSizeOuter(0),
        d3.axisLeft(y).tickValues(gridLat).tickSize(4.9).tickPadding(4.9).tickSizeOuter(0));
    axisLabelX(g, "Longitude (deg)", 349);
    axisLabelY(g, "Latitude (deg)", -47);
})();

// ---- summary block
(function () {
    var cx = 1215;
    function line(y, size, colour, text) {
        svg.append("text").attr("x", cx).attr("y", y)
            .attr("text-anchor", "middle").attr("dominant-baseline", "central")
            .attr("font-size", size).attr("fill", colour).style("fill", colour)
            .style("white-space", "pre").text(text);
    }
    line(51, 22.2, ink, summaryTitle);
    line(73.5, 19.44, "#000", summaryCallsign);
    var lineY = [94.5, 118, 141, 164, 187, 210, 233];
    summaryLines.forEach(function (t, i) { line(lineY[i], 15.2, "#000", t); });
    line(257, 18, ink, summaryScore);
    line(277.5, 12.5, "#555", summaryParts);
})();

// ---- wind speed
var timeX = d3.scaleLinear().domain([-0.2275, 4.7775]).range([0, panelWidth]);

(function () {
    var g = panel(0, 1, "Wind Speed vs. Time");
    var x = timeX,
        y = d3.scaleLinear().domain([0, 38.8]).range([panelHeight, 0]);
    var yTicks = [0, 5, 10, 15, 20, 25, 30, 35];
    gridlines(g, dailyDays, yTicks, x, y);

    var band = d3.area()
        .x(function (d) { return x(d[0]); })
        .y0(function (d) { return y(d[1] - d[2]); })
        .y1(function (d) { return y(d[1] + d[2]); });
    g.append("path").attr("d", band(windPoints))
        .attr("fill", slate).attr("fill-opacity", 0.35).attr("stroke", slate).attr("stroke-opacity", 0.2);

    g.selectAll(".dot").data(windPoints).enter().append("circle")
        .attr("cx", function (d) { return x(d[0]); })
        .attr("cy", function (d) { return y(d[1]); })
        .attr("r", 2.3).attr("fill", navy);

    g.append("path")
        .attr("d", d3.line()
            .x(function (d) { return x(d); })
            .y(function (d, i) { return y(dailyWind[i]); })(dailyDays))
        .attr("fill", "none").attr("stroke", red).attr("stroke-width", 1.9);

    legendBox(g, 6.5, 6, 162, 49);
    g.append("rect").attr("x", 10.5).attr("y", 10).attr("width", 27).attr("height", 9.5)
        .attr("fill", slate).attr("fill-opacity", 0.35);
    g.append("circle").attr("cx", 24).attr("cy", 30).attr("r", 1.9).attr("fill", navy);
    g.append("line").attr("x1", 10.5).attr("x2", 37.5).attr("y1", 46).attr("y2", 46)
        .attr("stroke", red).attr("stroke-width", 1.5);
    legendText(g, 41, 14.5, "±1σ propagated error");
    legendText(g, 41, 30, "Wind speed");
    legendText(g, 41, 46, "Daily mean");

    finishAxes(g,
        d3.axisBottom(x).tickValues(dailyDays).tickFormat(function (d, i) { return dateLabels[i]; })
            .tickSize(4.9).tickSizeOuter(0),
        d3.axisLeft(y).tickValues(yTicks).tickSize(4.9).tickPadding(4.9).tickSizeOuter(0),
        true);
    windUnit(axisLabelY(g, "", -41), "Wind speed ");
})();

// ---- latitude
(function () {
    var g = panel(1, 1, "Latitude vs. Time");
    var x = d3.scaleLinear().domain([0.428, 4.746]).range([0, panelWidth]),
        y = d3.scaleLinear().domain([-90, 90]).range([panelHeight, 0]);
    gridlines(g, latTickDays, gridLat, x, y);
    g.selectAll(".dot").data(latPoints).enter().append("circle")
        .attr("cx", function (d) { return x(d[0]); })
        .attr("cy", function (d) { return y(d[1]); })
        .attr("r", 2.8).attr("fill", "#000");
    finishAxes(g,
        d3.axisBottom(x).tickValues(latTickDays).tickFormat(function (d, i) { return latTickLabels[i]; })
            .tickSize(4.9).tickSizeOuter(0),
        d3.axisLeft(y).tickValues(gridLat).tickSize(4.9).tickPadding(4.9).tickSizeOuter(0),
        true);
    axisLabelY(g, "Latitude (deg)", -48);
})();

// ---- altitude
(function () {
    var g = panel(0, 2, "Balloon Altitude vs. Time");
    var x = timeX,
        y = d3.scaleLinear().domain([6808, 12175]).range([panelHeight, 0]);
    var yTicks = [7000, 8000, 9000, 10000, 11000, 12000];
    gridlines(g, dailyDays, yTicks, x, y);
    g.selectAll(".dot").data(altPoints).enter().append("circle")
        .attr("cx", function (d) { return x(d[0]); })
        .attr("cy", function (d) { return y(d[1]); })
        .attr("r", 2).attr("fill", slate);
    g.append("path")
        .attr("d", d3.line()
            .x(function (d) { return x(d); })
            .y(function (d, i) { return y(dailyAltitude[i]); })(dailyDays))
        .attr("fill", "none").attr("stroke", red).attr("stroke-width", 1.9);
    finishAxes(g,
        d3.axisBottom(x).tickValues(dailyDays).tickFormat(function (d, i) { return dateLabels[i]; })
            .tickSize(4.9).tickSizeOuter(0),
        d3.axisLeft(y).tickValues(yTicks).tickFormat(d3.format("d")).tickSize(4.9).tickPadding(4.9).tickSizeOuter(0),
        true);
    axisLabelX(g, "UTC date", 368);
    axisLabelY(g, "Altitude (m AMSL)", -63);
})();

// ---- wind component histogram
(function () {
    var g = panel(1, 2, "U and V Wind Components");
    var x = d3.scaleLinear().domain([-100, 100]).range([0, panelWidth]),
        y = d3.scaleLinear().domain([0, 278]).range([panelHeight, 0]);
    var xTicks = [-100, -75, -50, -25, 0, 25, 50, 75, 100],
        yTicks = [0, 50, 100, 150, 200, 250];
    gridlines(g, xTicks, yTicks, x, y);

    function bars(counts, colour) {
        g.selectAll(".bar-" + colour.slice(1)).data(counts).enter().append("rect")
            .attr("class", "bar-" + colour.slice(1))
            .attr("x", function (d, i) { return x(binEdges[i]); })
            .attr("y", function (d) { return y(d); })
            .attr("width", function (d, i) { return x(binEdges[i + 1]) - x(binEdges[i]); })
            .attr("height", function (d) { return panelHeight - y(d); })
            .attr("fill", colour).attr("fill-opacity", 0.65)
            .attr("stroke", "#000").attr("stroke-opacity", 0.65).attr("stroke-width", 1.2);
    }
    bars(uCounts, "#1f77b4");
    bars(vCounts, "#ff7f0e");

    legendBox(g, 580, 6, 118, 33);
    g.append("rect").attr("x", 585).attr("y", 12).attr("width", 22).attr("height", 9)
        .attr("fill", "#1f77b4").attr("fill-opacity", 0.65).attr("stroke", "#000").attr("stroke-opacity", 0.65);
    g.append("rect").attr("x", 585).attr("y", 27).attr("width", 22).attr("height", 9)
        .attr("fill", "#ff7f0e").attr("fill-opacity", 0.65).attr("stroke", "#000").attr("stroke-opacity", 0.65);
    legendText(g, 613, 16.5, "U (zonal)");
    legendText(g, 613, 31.5, "V (meridional)");

    finishAxes(g,
        d3.axisBottom(x).tickValues(xTicks).tickSize(4.9).tickPadding(4.9).tickSizeOuter(0),
        d3.axisLeft(y).tickValues(yTicks).tickSize(4.9).tickPadding(4.9).tickSizeOuter(0));
    windUnit(axisLabelX(g, "", 352), "Wind speed ");
    axisLabelY(g, "Frequency", -45);
})();
</script>
</body>
</html>
